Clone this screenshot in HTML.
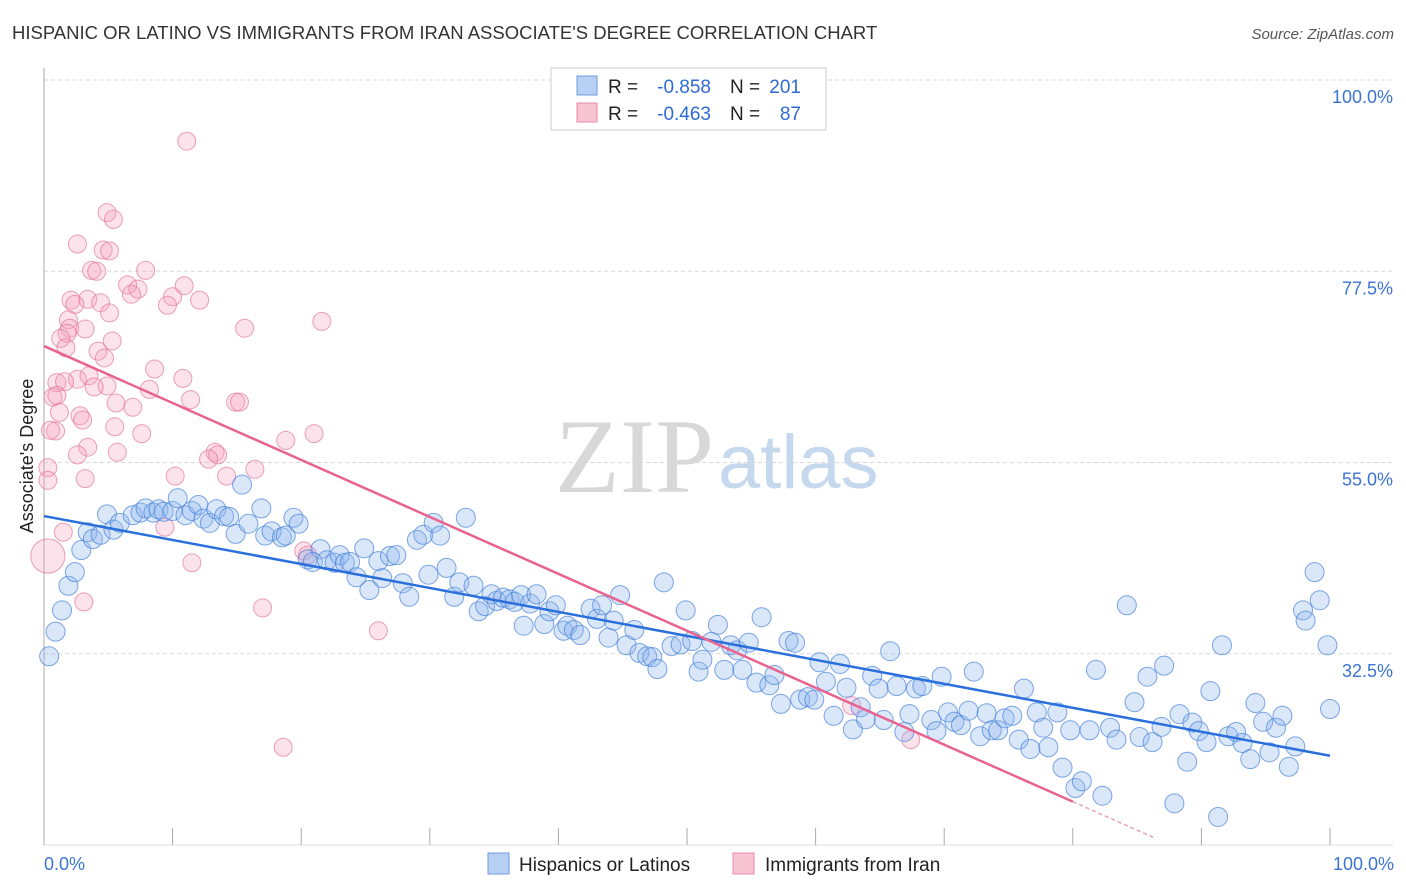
<!DOCTYPE html>
<html><head><meta charset="utf-8">
<style>
body{margin:0;background:#fff;width:1406px;height:892px;overflow:hidden;font-family:"Liberation Sans",sans-serif}
svg{display:block}
</style></head>
<body>
<svg id="chart" width="1406" height="892" viewBox="0 0 1406 892" xmlns="http://www.w3.org/2000/svg">
<text x="12" y="39" font-size="18.5" fill="#333" font-family="Liberation Sans, sans-serif">HISPANIC OR LATINO VS IMMIGRANTS FROM IRAN ASSOCIATE'S DEGREE CORRELATION CHART</text>
<text x="1394" y="39" font-size="15" fill="#555" text-anchor="end" font-style="italic">Source: ZipAtlas.com</text>
<g>
<text x="555" y="492" font-size="106" fill="#d8d8d8" font-family="Liberation Serif, serif">ZIP</text>
<text x="718" y="488" font-size="76" fill="#c5d8ee" font-family="Liberation Sans, sans-serif">atlas</text>
</g>
<g id="grid"></g>
<g id="axes"></g>
<g id="pink"></g>
<g id="blue"></g>
<g id="lines"></g>
<text transform="translate(33,456) rotate(-90)" font-size="18" fill="#222" text-anchor="middle">Associate's Degree</text>
<text x="44" y="870" font-size="18" fill="#3b73d0">0.0%</text>
<text x="1394" y="870" font-size="18" fill="#3b73d0" text-anchor="end">100.0%</text>
<g>
<rect x="551" y="68" width="275" height="62" fill="#fff" stroke="#ccc"/>
<rect x="577" y="76" width="20" height="19" fill="#b6cff3" stroke="#6f9be0"/>
<rect x="577" y="103" width="20" height="19" fill="#f8c4d4" stroke="#e88aa8"/>
<text x="608" y="93" font-size="19" fill="#222">R =</text>
<text x="711" y="93" font-size="19" fill="#2f6bd6" text-anchor="end">-0.858</text>
<text x="730" y="93" font-size="19" fill="#222">N =</text>
<text x="801" y="93" font-size="19" fill="#2f6bd6" text-anchor="end">201</text>
<text x="608" y="120" font-size="19" fill="#222">R =</text>
<text x="711" y="120" font-size="19" fill="#2f6bd6" text-anchor="end">-0.463</text>
<text x="730" y="120" font-size="19" fill="#222">N =</text>
<text x="801" y="120" font-size="19" fill="#2f6bd6" text-anchor="end">87</text>
</g>
<g>
<rect x="488" y="853" width="21" height="21" fill="#b6cff3" stroke="#6f9be0"/>
<text x="519" y="871" font-size="19" fill="#222">Hispanics or Latinos</text>
<rect x="733" y="853" width="21" height="21" fill="#f8c4d4" stroke="#e88aa8"/>
<text x="765" y="871" font-size="19" fill="#222">Immigrants from Iran</text>
</g>
</svg>
<script>
const yTicks = [100, 77.5, 55, 32.5];
const yTickLabels = ["100.0%", "77.5%", "55.0%", "32.5%"];
const xTicks = [0,10,20,30,40,50,60,70,80,90,100];
const blueX = [0.4,0.9,1.4,1.9,2.4,2.9,3.4,3.8,4.4,4.9,5.4,5.9,6.9,7.5,7.9,8.5,8.9,9.3,10.0,10.4,11.0,11.5,12.0,12.4,12.9,13.4,14.0,14.4,15.4,14.9,15.9,16.9,17.2,17.7,18.5,18.8,19.4,19.8,20.5,21.5,20.9,22.0,22.6,23.0,23.4,23.8,24.3,24.9,25.3,26.0,26.3,26.9,27.4,27.9,28.4,29.0,29.5,29.9,30.3,30.8,31.3,31.9,32.3,32.8,33.4,33.8,34.3,34.8,35.2,35.7,36.2,36.6,37.1,37.3,37.8,38.3,38.9,39.3,39.8,40.4,40.7,41.2,41.7,42.5,43.0,43.4,43.9,44.3,44.8,45.3,45.9,46.3,46.9,47.3,47.7,48.2,48.8,49.5,49.9,50.4,50.9,51.2,51.9,52.4,52.9,53.4,53.9,54.3,54.8,55.4,55.8,56.4,56.8,57.3,57.9,58.4,58.8,59.4,59.9,60.3,60.8,61.4,61.9,62.4,62.9,63.5,63.9,64.4,64.9,65.3,65.8,66.3,66.9,67.3,67.8,68.3,69.0,69.4,69.8,70.3,70.8,71.3,71.9,72.3,72.8,73.3,73.7,74.2,74.7,75.3,75.8,76.2,76.7,77.2,77.7,78.1,78.8,79.2,79.8,80.2,80.7,81.3,81.8,82.3,82.9,83.4,84.2,84.8,85.2,85.8,86.2,87.1,86.9,87.9,88.3,88.9,89.3,89.8,90.4,90.7,91.3,91.6,92.1,92.7,93.2,93.8,94.2,94.8,95.3,95.8,96.3,96.8,97.3,97.9,98.1,98.8,99.2,99.8,100.0];
const blueY = [32.2,35.1,37.6,40.5,42.1,44.7,46.8,46.0,46.5,48.9,47.1,47.9,48.8,49.1,49.6,49.1,49.5,49.2,49.3,50.8,48.8,49.3,50.0,48.4,47.9,49.5,48.7,48.6,52.4,46.6,47.8,49.6,46.4,46.9,46.2,46.4,48.5,47.8,43.6,44.8,43.3,43.5,43.2,44.1,43.2,43.3,41.5,44.9,40.0,43.4,41.4,44.0,44.1,40.8,39.2,45.9,46.5,41.8,47.9,46.4,42.6,39.2,40.9,48.5,40.5,37.5,38.1,39.5,38.7,39.1,38.9,38.6,39.4,35.8,38.4,39.5,36.0,37.5,38.2,35.2,35.8,35.3,34.7,37.8,36.6,38.2,34.4,36.4,39.4,33.5,35.3,32.6,32.2,32.1,30.7,40.9,33.4,33.6,37.6,34.0,30.4,31.8,33.9,35.9,30.6,33.5,32.9,30.6,33.8,29.1,36.8,28.8,30.0,26.6,34.0,33.8,27.1,27.4,27.1,31.5,29.2,25.2,31.3,28.5,23.6,26.2,24.8,29.9,28.4,24.7,32.8,28.7,23.3,25.4,28.4,28.7,24.7,23.4,29.8,25.6,24.5,24.1,25.8,30.4,22.8,25.5,23.5,23.5,24.9,25.2,22.4,28.4,21.3,25.6,23.8,21.5,25.6,19.1,23.5,16.7,17.5,23.5,30.6,15.8,23.8,22.4,38.2,26.8,22.7,29.8,22.1,31.1,23.9,14.9,25.4,19.8,24.4,23.4,22.1,28.1,13.3,33.5,22.8,23.3,22.0,20.1,26.7,24.5,20.9,23.8,25.2,19.2,21.6,37.6,36.4,42.1,38.8,33.5,26.0];
const pinkX = [11.1,4.9,5.4,2.6,4.6,5.1,3.7,4.1,7.9,6.5,7.3,10.9,6.8,2.1,3.4,2.4,4.4,10.0,12.1,9.6,5.1,1.9,2.0,1.8,3.2,15.6,21.6,1.3,1.7,4.2,5.3,4.7,8.6,2.6,1.0,1.6,3.5,10.8,4.9,3.9,8.2,0.7,1.0,11.4,5.6,6.9,14.9,15.2,1.2,2.8,3.0,0.9,0.5,7.6,5.5,18.8,21.0,3.4,2.6,5.7,13.3,13.5,12.8,0.3,0.3,10.2,16.4,14.2,3.2,1.5,9.4,20.2,20.5,11.5,3.1,17.0,26.0,18.6,62.8,67.4,0.3];
const pinkY = [92.8,84.4,83.6,80.7,80.0,79.9,77.6,77.5,77.6,75.9,75.4,75.8,74.8,74.1,74.2,73.6,73.8,74.5,74.1,73.5,72.6,71.8,70.8,70.2,70.7,70.8,71.6,69.6,68.5,68.1,69.3,67.3,66.0,64.8,64.4,64.5,65.2,64.9,64.0,63.9,63.6,62.7,62.9,62.4,62.0,61.5,62.1,62.1,60.9,60.5,60.0,58.7,58.8,58.4,59.2,57.6,58.4,56.8,55.9,56.2,56.2,55.9,55.4,54.4,52.9,53.4,54.2,53.4,53.1,46.8,47.4,44.6,44.1,43.2,38.6,37.9,35.2,21.5,26.4,22.4,44.0];
const pinkSize = [1,1,1,1,1,1,1,1,1,1,1,1,1,1,1,1,1,1,1,1,1,1,1,1,1,1,1,1,1,1,1,1,1,1,1,1,1,1,1,1,1,1,1,1,1,1,1,1,1,1,1,1,1,1,1,1,1,1,1,1,1,1,1,1,1,1,1,1,1,1,1,1,1,1,1,1,1,1,1,1,2];
const blueTrend = [48.7, 20.5];
const pinkTrend = [68.7, 15.1, 80, 10.8, 86.4];

const X0=44, X1=1330, YTOP=80, YBOT=845, VMIN=10, VMAX=100;
const sx = v => X0 + (v/100)*(X1-X0);
const sy = v => YTOP + (VMAX-v)/(VMAX-VMIN)*(YBOT-YTOP);
const NS="http://www.w3.org/2000/svg";
function mk(tag, attrs, parent){const e=document.createElementNS(NS,tag);for(const k in attrs)e.setAttribute(k,attrs[k]);parent.appendChild(e);return e;}

const grid=document.getElementById('grid');
yTicks.forEach((t,i)=>{
  const l=mk('line',{x1:X0,x2:1393,y1:sy(t),y2:sy(t),stroke:'#d8d8d8','stroke-dasharray':'4,3'},grid);
  
  
  const tx=mk('text',{x:1393,y:sy(t)+23,'font-size':18,fill:'#3b73d0','text-anchor':'end'},grid);
  tx.textContent=yTickLabels[i];
  
  
});
const axes=document.getElementById('axes');
const ya=mk('line',{x1:X0,x2:X0,y1:68,y2:YBOT,stroke:'#aaa'},axes);


const xa=mk('line',{x1:X0,x2:1393,y1:YBOT,y2:YBOT,stroke:'#ddd'},axes);


xTicks.forEach(t=>{
  const l=mk('line',{x1:sx(t),x2:sx(t),y1:828,y2:YBOT,stroke:'#aaa'},axes);
  
  
});
const pg=document.getElementById('pink');
pinkX.forEach((x,i)=>{
  const c=mk('circle',{cx:sx(x),cy:sy(pinkY[i]),r:9*(pinkSize[i]===2?1.9:1),fill:'rgba(244,160,190,0.3)',stroke:'rgba(226,110,150,0.65)','stroke-width':1},pg);
  
  
});
const bg=document.getElementById('blue');
blueX.forEach((x,i)=>{
  const c=mk('circle',{cx:sx(x),cy:sy(blueY[i]),r:9.5,fill:'rgba(140,180,235,0.32)',stroke:'rgba(70,130,220,0.7)','stroke-width':1},bg);
  
  
});
const lg=document.getElementById('lines');
const bl=mk('line',{x1:sx(0),y1:sy(blueTrend[0]),x2:sx(100),y2:sy(blueTrend[1]),stroke:'#2a6fdb','stroke-width':2.5},lg);


const pl=mk('line',{x1:sx(0),y1:sy(pinkTrend[0]),x2:sx(pinkTrend[2]),y2:sy(pinkTrend[1]),stroke:'#e8638f','stroke-width':2.5},lg);


const pd=mk('line',{x1:sx(pinkTrend[2]),y1:sy(pinkTrend[1]),x2:sx(pinkTrend[4]),y2:sy(pinkTrend[3]),stroke:'#e8a0b8','stroke-width':1.5,'stroke-dasharray':'4,3'},lg);


</script>
</body></html>
